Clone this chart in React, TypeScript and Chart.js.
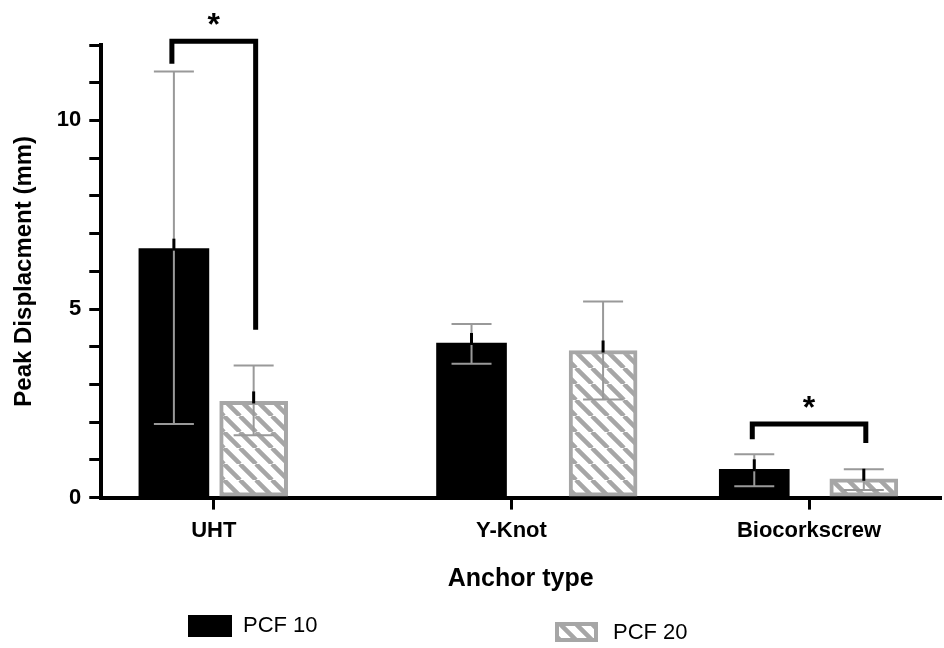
import React, { useEffect, useRef } from "react";
import { Chart, registerables } from "chart.js";
Chart.register(...registerables);

const categories = ["UHT", "Y-Knot", "Biocorkscrew"];
const pcf10X = [-0.134, 0.866, 1.816];
const pcf20X = [0.134, 1.308, 2.184];
const pcf10 = [6.6, 4.1, 0.75];
const pcf20 = [2.55, 3.9, 0.5];
const pcf10Lo = [1.95, 3.55, 0.3];
const pcf10Hi = [11.3, 4.6, 1.15];
const pcf20Lo = [1.65, 2.6, 0.2];
const pcf20Hi = [3.5, 5.2, 0.75];
const yTicks = [0, 5, 10];

function makePattern(): CanvasPattern | string {
  const c = document.createElement("canvas");
  c.width = 16; c.height = 16;
  const g = c.getContext("2d")!;
  g.fillStyle = "#fff"; g.fillRect(0, 0, 16, 16);
  g.strokeStyle = "#a6a6a6"; g.lineWidth = 4.5;
  g.beginPath();
  for (const o of [-16, 0, 16]) { g.moveTo(o, 0); g.lineTo(o + 16, 16); }
  g.stroke();
  return g.createPattern(c, "repeat") || "#fff";
}

const FONT = "'Liberation Sans', Arial, sans-serif";

export default function App() {
  const ref = useRef<HTMLCanvasElement>(null);
  useEffect(() => {
    document.body.style.margin = "0";
    const pattern = makePattern();
    const overlay = {
      id: "overlay",
      afterDatasetsDraw(chart: any) {
        const ctx = chart.ctx as CanvasRenderingContext2D;
        const xs = chart.scales.x, ys = chart.scales.y;
        ctx.save();
        const err = (xv: number, lo: number, hi: number, v: number) => {
          const px = xs.getPixelForValue(xv);
          ctx.strokeStyle = "#999"; ctx.lineWidth = 2;
          ctx.beginPath();
          ctx.moveTo(px, ys.getPixelForValue(lo)); ctx.lineTo(px, ys.getPixelForValue(hi));
          for (const e of [lo, hi]) { const py = ys.getPixelForValue(e); ctx.moveTo(px - 20, py); ctx.lineTo(px + 20, py); }
          ctx.stroke();
          ctx.strokeStyle = "#000"; ctx.lineWidth = 3;
          ctx.beginPath(); ctx.moveTo(px, ys.getPixelForValue(v) + 2); ctx.lineTo(px, ys.getPixelForValue(v) - 10); ctx.stroke();
        };
        for (let i = 0; i < 3; i++) {
          err(pcf10X[i], pcf10Lo[i], pcf10Hi[i], pcf10[i]);
          err(pcf20X[i], pcf20Lo[i], pcf20Hi[i], pcf20[i]);
        }
        ctx.strokeStyle = "#000"; ctx.lineWidth = 5; ctx.lineJoin = "miter";
        const bracket = (i: number, topV: number, lV: number, rV: number) => {
          const x1 = xs.getPixelForValue(pcf10X[i]) - 2, x2 = xs.getPixelForValue(pcf20X[i]) + 2;
          const yt = ys.getPixelForValue(topV);
          ctx.beginPath();
          ctx.moveTo(x1, ys.getPixelForValue(lV)); ctx.lineTo(x1, yt); ctx.lineTo(x2, yt); ctx.lineTo(x2, ys.getPixelForValue(rV));
          ctx.stroke();
          ctx.fillStyle = "#000"; ctx.font = `bold 32px ${FONT}`; ctx.textAlign = "center";
          ctx.fillText("*", (x1 + x2) / 2, yt - 6);
        };
        bracket(0, 12.1, 11.5, 4.45);
        bracket(2, 1.95, 1.55, 1.45);
        ctx.fillStyle = "#000"; ctx.fillRect(188, 615, 44, 22);
        ctx.fillStyle = pattern as any; ctx.fillRect(555, 622, 43, 20);
        ctx.strokeStyle = "#a6a6a6"; ctx.lineWidth = 4; ctx.strokeRect(557, 624, 39, 16);
        ctx.fillStyle = "#000"; ctx.font = `22px ${FONT}`; ctx.textAlign = "left"; ctx.textBaseline = "middle";
        ctx.fillText("PCF 10", 243, 626);
        ctx.fillText("PCF 20", 613, 633);
        ctx.restore();
      },
    };
    const chart = new Chart(ref.current!, {
      type: "bar",
      data: {
        datasets: [
          { label: "PCF 10", data: pcf10.map((y, i) => ({ x: pcf10X[i], y })), backgroundColor: "#000", borderColor: "#000", borderWidth: 0, barThickness: 70, grouped: false } as any,
          { label: "PCF 20", data: pcf20.map((y, i) => ({ x: pcf20X[i], y })), backgroundColor: pattern as any, borderColor: "#a6a6a6", borderWidth: 4, barThickness: 68, grouped: false, borderSkipped: false } as any,
        ],
      },
      plugins: [overlay],
      options: {
        responsive: false, animation: false,
        layout: { padding: { top: 45, right: 4, bottom: 50, left: 6 } },
        plugins: { legend: { display: false }, tooltip: { enabled: false } },
        scales: {
          x: {
            type: "linear", min: -0.378, max: 2.44, offset: false,
            afterBuildTicks: (s: any) => { s.ticks = categories.map((_, i) => ({ value: i })); },
            ticks: { callback: (v: any) => categories[v as number] ?? "", color: "#000", font: { family: FONT, size: 22, weight: "bold" }, padding: 8 },
            grid: { drawOnChartArea: false, offset: false, color: "#000", lineWidth: 3, tickLength: 12 },
            border: { color: "#000", width: 4 },
            title: { display: true, text: "Anchor type", color: "#000", font: { family: FONT, size: 25, weight: "bold" }, padding: { top: 12 } },
          },
          y: {
            min: 0, max: 12,
            ticks: { stepSize: 1, autoSkip: false, callback: (v: any) => (yTicks.includes(v) ? String(v) : ""), color: "#000", font: { family: FONT, size: 22, weight: "bold" }, padding: 8 },
            grid: { drawOnChartArea: false, color: "#000", lineWidth: 3, tickLength: 12 },
            border: { color: "#000", width: 4 },
            title: { display: true, text: "Peak Displacment (mm)", color: "#000", font: { family: FONT, size: 24, weight: "bold" }, padding: { bottom: 10 } },
          },
        },
      } as any,
    });
    return () => chart.destroy();
  }, []);
  return <canvas ref={ref} width={944} height={648} style={{ display: "block" }} />;
}
